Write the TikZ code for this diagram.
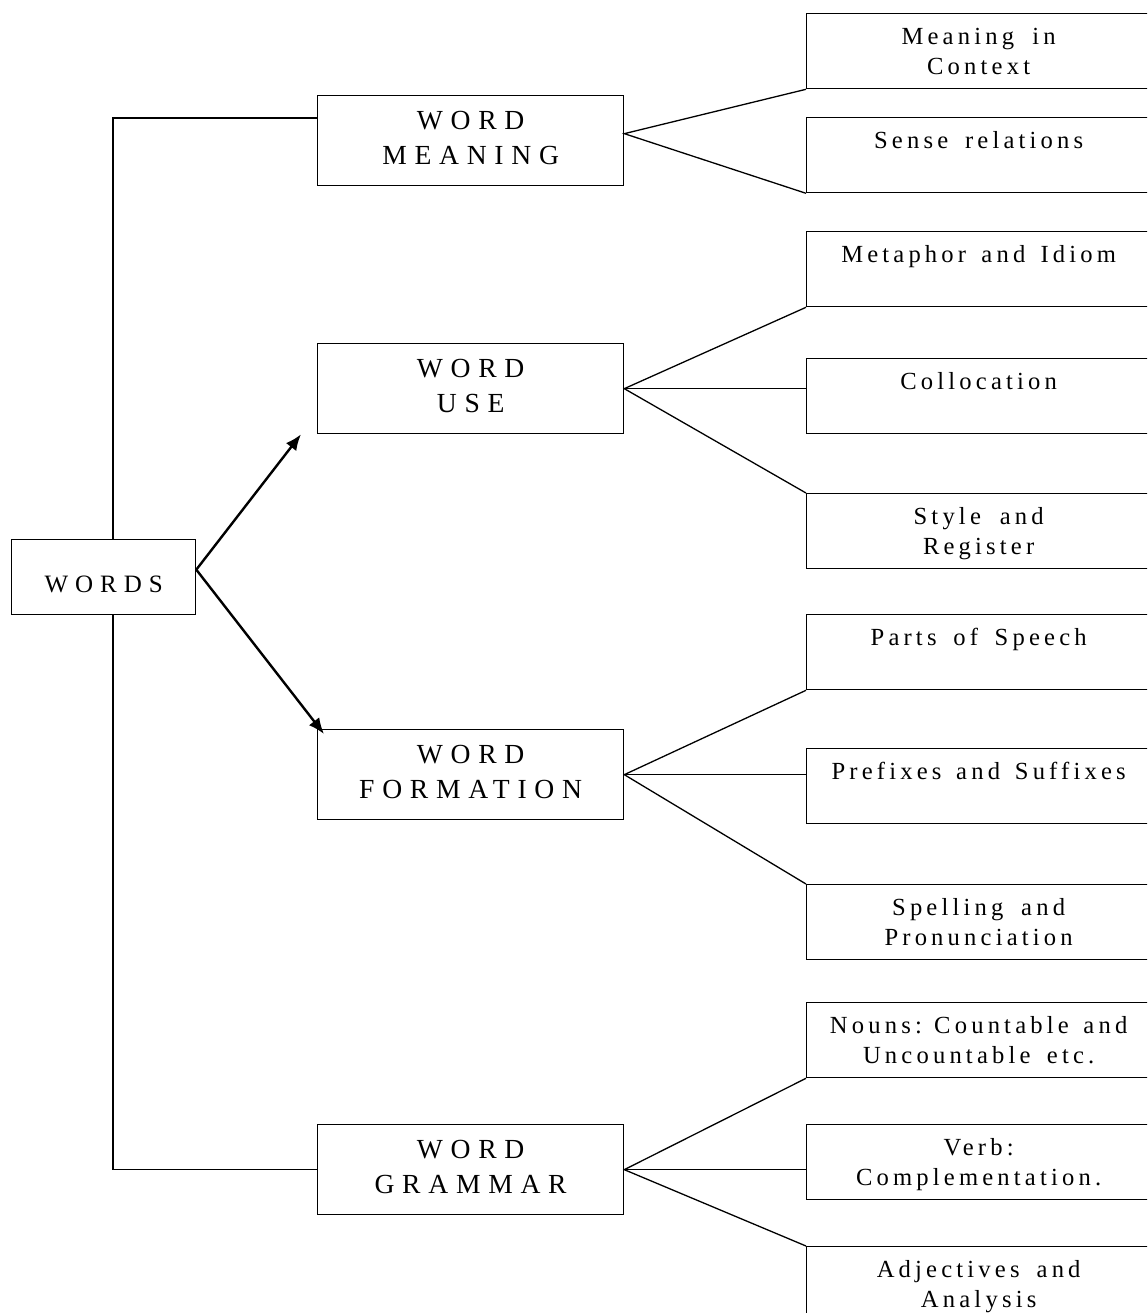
\documentclass[tikz,border=0pt]{standalone}
\usepackage{fontspec}
\setmainfont{Liberation Serif}
\newfontfamily\midfont[LetterSpace=28]{Liberation Serif}
\newfontfamily\leaffont[LetterSpace=17]{Liberation Serif}
\newcommand\leafspacing{\spaceskip=0.55em plus 0.1em\relax}
\usetikzlibrary{arrows.meta}

\begin{document}
\begin{tikzpicture}[x=0.5pt,y=-0.5pt,line width=0.65pt,
  box/.style={draw,anchor=north west,inner sep=0pt,align=center},
  midbox/.style={box,text width=153pt,text height=17pt,text depth=28pt,
    font=\midfont\fontsize{13.8}{17.5}\selectfont},
  leafbox/.style={box,text width=172pt,text height=15.5pt,text depth=22pt,
    font=\leaffont\fontsize{12.3}{15}\selectfont,
    execute at begin node=\leafspacing},
  link/.style={line width=1.2pt,-{Latex[length=8pt,width=6.5pt]}}]
  \useasboundingbox (0,0) rectangle (1147,1313);
  \clip (0,0) rectangle (1147,1313);

  \node[box,text width=92pt,text height=26.5pt,text depth=11pt,
    font=\midfont\fontsize{12.5}{15}\selectfont] (words) at (11,539) {WORDS};
  \foreach \name/\y/\txt in {meaning/95/{WORD\\MEANING},use/343/{WORD\\USE},
    formation/729/{WORD\\FORMATION},grammar/1124/{WORD\\GRAMMAR}}
    \node[midbox] (\name) at (317,\y) {\txt};
  \foreach \name/\y/\txt in {context/13/{Meaning in\\Context},
    sense/117/{Sense relations},metaphor/231/{Metaphor and Idiom},
    colloc/358/{Collocation},style/493/{Style and\\Register},
    parts/614/{Parts of Speech},affix/748/{Prefixes and Suffixes},
    spell/884/{Spelling and\\Pronunciation},
    nouns/1002/{Nouns: Countable and\\Uncountable etc.},
    verb/1124/{Verb:\\Complementation.},adj/1246/{Adjectives and\\Analysis}}
    \node[leafbox] (\name) at (806,\y) {\txt};

  % left trunk
  \coordinate (trunk) at (113,118);
  \draw (trunk -| meaning.west) -- (trunk) -- (trunk |- words.north);
  \draw (trunk |- words.south) |- (grammar.west);

  \coordinate (fork) at ([yshift=3.75pt]words.east);
  \draw[link] (fork) -- ([xshift=-8pt]use.south west);
  \draw[link] (fork) -- ([shift={(3.5pt,-2.5pt)}]formation.north west);

  % fans to the right
  \coordinate (mtip) at ([yshift=3.5pt]meaning.east);
  \draw (context.south west) -- (mtip) -- (sense.south west);
  \foreach \m/\a/\b/\c in {use/metaphor/colloc/style,
    formation/parts/affix/spell,grammar/nouns/verb/adj} {
    \draw (\a.south west) -- (\m.east) -- (\c.north west);
    \draw (\m.east) -- (\m.east -| \b.west);
  }
\end{tikzpicture}
\end{document}
